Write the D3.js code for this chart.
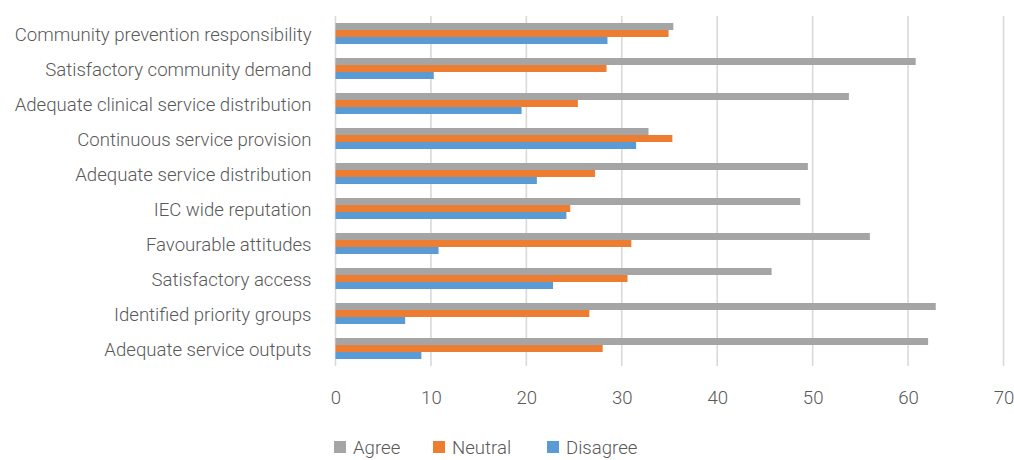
<!DOCTYPE html>
<html>
<head>
<meta charset="utf-8">
<script src="https://cdn.jsdelivr.net/npm/d3@7"></script>
<style>
  html, body { margin: 0; padding: 0; background: #ffffff; }
  svg { display: block; }
  text { font-family: Roboto, "Liberation Sans", sans-serif; font-weight: 300; fill: #595959; }
</style>
</head>
<body>
<svg id="chart" width="1014" height="460"></svg>
<script>
// Survey statements, listed top to bottom
const categories = [
  "Community prevention responsibility",
  "Satisfactory community demand",
  "Adequate clinical service distribution",
  "Continuous service provision",
  "Adequate service distribution",
  "IEC wide reputation",
  "Favourable attitudes",
  "Satisfactory access",
  "Identified priority groups",
  "Adequate service outputs"
];

const seriesNames = ["Agree", "Neutral", "Disagree"];

// Percent of respondents per statement
const agree    = [35.4, 60.8, 53.8, 32.8, 49.5, 48.7, 56.0, 45.7, 62.9, 62.1];
const neutral  = [34.9, 28.4, 25.4, 35.3, 27.2, 24.6, 31.0, 30.6, 26.6, 28.0];
const disagree = [28.5, 10.3, 19.5, 31.5, 21.1, 24.2, 10.8, 22.8,  7.3,  9.0];

const xTicks = [0, 10, 20, 30, 40, 50, 60, 70];

const colors = ["#a5a5a5", "#ed7d31", "#5b9bd5"];

const rows = categories.map((c, i) => ({
  category: c,
  values: [agree[i], neutral[i], disagree[i]]
}));

const FONT = "Roboto, 'Liberation Sans', sans-serif";
const FS = 18.6;

const svg = d3.select("#chart");
const margin = { top: 16, left: 335.5, right: 10.5, bottom: 94 };
const width = 1014 - margin.left - margin.right;
const height = 460 - margin.top - margin.bottom;

const g = svg.append("g").attr("transform", `translate(${margin.left},${margin.top})`);

const x = d3.scaleLinear().domain([0, 70]).range([0, width]);
const y = d3.scaleBand().domain(categories).range([0, height]).paddingInner(0.4).paddingOuter(0.2);
const ySub = d3.scaleBand().domain(seriesNames).range([0, y.bandwidth()]);

// Vertical gridlines
g.append("g")
  .selectAll("line")
  .data(xTicks)
  .join("line")
  .attr("x1", d => x(d)).attr("x2", d => x(d))
  .attr("y1", 0).attr("y2", height)
  .attr("stroke", "#d9d9d9")
  .attr("stroke-width", 1.6);

// Grouped bars
const groups = g.append("g")
  .selectAll("g")
  .data(rows)
  .join("g")
  .attr("transform", d => `translate(0,${y(d.category)})`);

groups.selectAll("rect")
  .data(d => d.values.map((v, k) => ({ key: seriesNames[k], value: v, k })))
  .join("rect")
  .attr("x", x(0))
  .attr("y", d => ySub(d.key))
  .attr("width", d => x(d.value) - x(0))
  .attr("height", ySub.bandwidth())
  .attr("fill", d => colors[d.k]);

// Category axis
const yAxis = g.append("g")
  .call(d3.axisLeft(y).tickSize(0).tickPadding(24));
yAxis.select(".domain").remove();
yAxis.selectAll("text")
  .attr("dy", "0.4em")
  .attr("font-size", FS)
  .style("font-family", FONT)
  .style("font-weight", 300)
  .attr("fill", "#595959");

// Value axis
const xAxis = g.append("g")
  .attr("transform", `translate(0,${height})`)
  .call(d3.axisBottom(x).tickValues(xTicks).tickSize(0).tickPadding(25));
xAxis.select(".domain").remove();
xAxis.selectAll("text")
  .attr("font-size", FS)
  .style("font-family", FONT)
  .style("font-weight", 300)
  .attr("fill", "#595959");

// Legend
const legendX = [334, 433, 547];
const legend = svg.append("g")
  .selectAll("g")
  .data(seriesNames)
  .join("g")
  .attr("transform", (d, i) => `translate(${legendX[i]},441)`);
legend.append("rect")
  .attr("width", 12).attr("height", 12)
  .attr("fill", (d, i) => colors[i]);
legend.append("text")
  .attr("x", 19).attr("y", 6)
  .attr("dy", "0.36em")
  .attr("font-size", FS)
  .text(d => d);
</script>
</body>
</html>
